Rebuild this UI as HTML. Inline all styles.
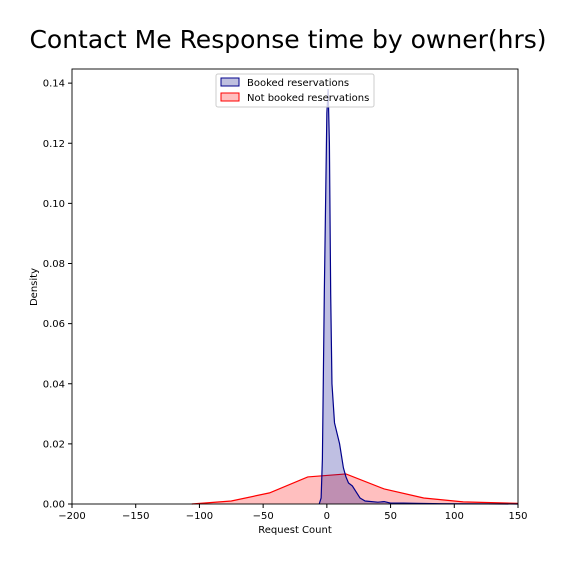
<!DOCTYPE html>
<html><head><meta charset="utf-8"><style>
body{margin:0;background:#fff;font-family:"DejaVu Sans","Liberation Sans",sans-serif}
</style></head><body>
<svg id="chart" width="576" height="576" xmlns="http://www.w3.org/2000/svg">
<text x="288" y="48" text-anchor="middle" font-size="25" font-family="DejaVu Sans, Liberation Sans, sans-serif">Contact Me Response time by owner(hrs)</text>
<g id="marks"></g>
<rect x="72" y="69" width="446" height="435" fill="none" stroke="#000" stroke-width="0.9"/>
<g id="axes" font-size="10" font-family="DejaVu Sans, Liberation Sans, sans-serif"></g>
<text x="295" y="533" text-anchor="middle" font-size="10">Request Count</text>
<text transform="translate(37,287) rotate(-90)" text-anchor="middle" font-size="10">Density</text>
<g>
<rect x="216" y="74" width="158" height="33" rx="2" fill="#fff" fill-opacity="0.8" stroke="#ccc"/>
<rect x="221" y="78" width="18" height="8" fill="#bfc0df" stroke="#00008b"/>
<text x="247" y="86" font-size="10">Booked reservations</text>
<rect x="221" y="93" width="18" height="8" fill="#ffbfbf" stroke="#f00"/>
<text x="247" y="101" font-size="10">Not booked reservations</text>
</g>
</svg>
<script>
const xTicks=[-200,-150,-100,-50,0,50,100,150];
const yTicks=[0,0.02,0.04,0.06,0.08,0.10,0.12,0.14];
const yTickLabels=["0.00","0.02","0.04","0.06","0.08","0.10","0.12","0.14"];
const notBookedX=[-106,-75,-45,-15,15,45,76,107,150];
const notBookedY=[0,0.001,0.0037,0.009,0.010,0.005,0.002,0.0007,0.0002];
const bookedX=[-6,-4.5,-3.5,-2,0,1,2,3,4,6,10,13,15,17,20,23,26,30,40,45,50,60,70,90,150];
const bookedY=[0,0.002,0.015,0.07,0.13,0.138,0.12,0.07,0.04,0.027,0.02,0.012,0.009,0.007,0.006,0.004,0.002,0.001,0.0006,0.0008,0.0003,0.0003,0.0002,0.0001,0];
const NS="http://www.w3.org/2000/svg";
const X=v=>72+(v+200)*446/350;
const Y=v=>504-v*435/0.1447;
const marks=document.getElementById('marks'),axes=document.getElementById('axes');
function area(xs,ys,fill,stroke,name){
  let d="M"+X(xs[0])+","+Y(0);
  xs.forEach((x,i)=>d+=" L"+X(x)+","+Y(ys[i]));
  d+=" L"+X(xs[xs.length-1])+","+Y(0)+" Z";
  const p=document.createElementNS(NS,'path');
  p.setAttribute('d',d);p.setAttribute('fill',fill);p.setAttribute('fill-opacity','0.25');
  
  
  marks.appendChild(p);
  let l="";xs.forEach((x,i)=>l+=(i?" L":"M")+X(x)+","+Y(ys[i]));
  const q=document.createElementNS(NS,'path');
  q.setAttribute('d',l);q.setAttribute('fill','none');q.setAttribute('stroke',stroke);q.setAttribute('stroke-width','1.2');
  
  
  marks.appendChild(q);
}
area(notBookedX,notBookedY,'#ff0000','#ff0000','not-booked');
area(bookedX,bookedY,'#00008b','#00008b','booked');
xTicks.forEach(t=>{
  const l=document.createElementNS(NS,'line');
  l.setAttribute('x1',X(t));l.setAttribute('x2',X(t));l.setAttribute('y1',504);l.setAttribute('y2',508);l.setAttribute('stroke','#000');
  
  
  axes.appendChild(l);
  const s=document.createElementNS(NS,'text');
  s.setAttribute('x',X(t));s.setAttribute('y',519);s.setAttribute('text-anchor','middle');
  s.textContent=t<0?'\u2212'+(-t):String(t);
  
  
  axes.appendChild(s);
});
yTicks.forEach((t,i)=>{
  const l=document.createElementNS(NS,'line');
  l.setAttribute('x1',68);l.setAttribute('x2',72);l.setAttribute('y1',Y(t));l.setAttribute('y2',Y(t));l.setAttribute('stroke','#000');
  
  
  axes.appendChild(l);
  const s=document.createElementNS(NS,'text');
  s.setAttribute('x',65);s.setAttribute('y',Y(t)+3.5);s.setAttribute('text-anchor','end');
  s.textContent=yTickLabels[i];
  
  
  axes.appendChild(s);
});
</script>
</body></html>
